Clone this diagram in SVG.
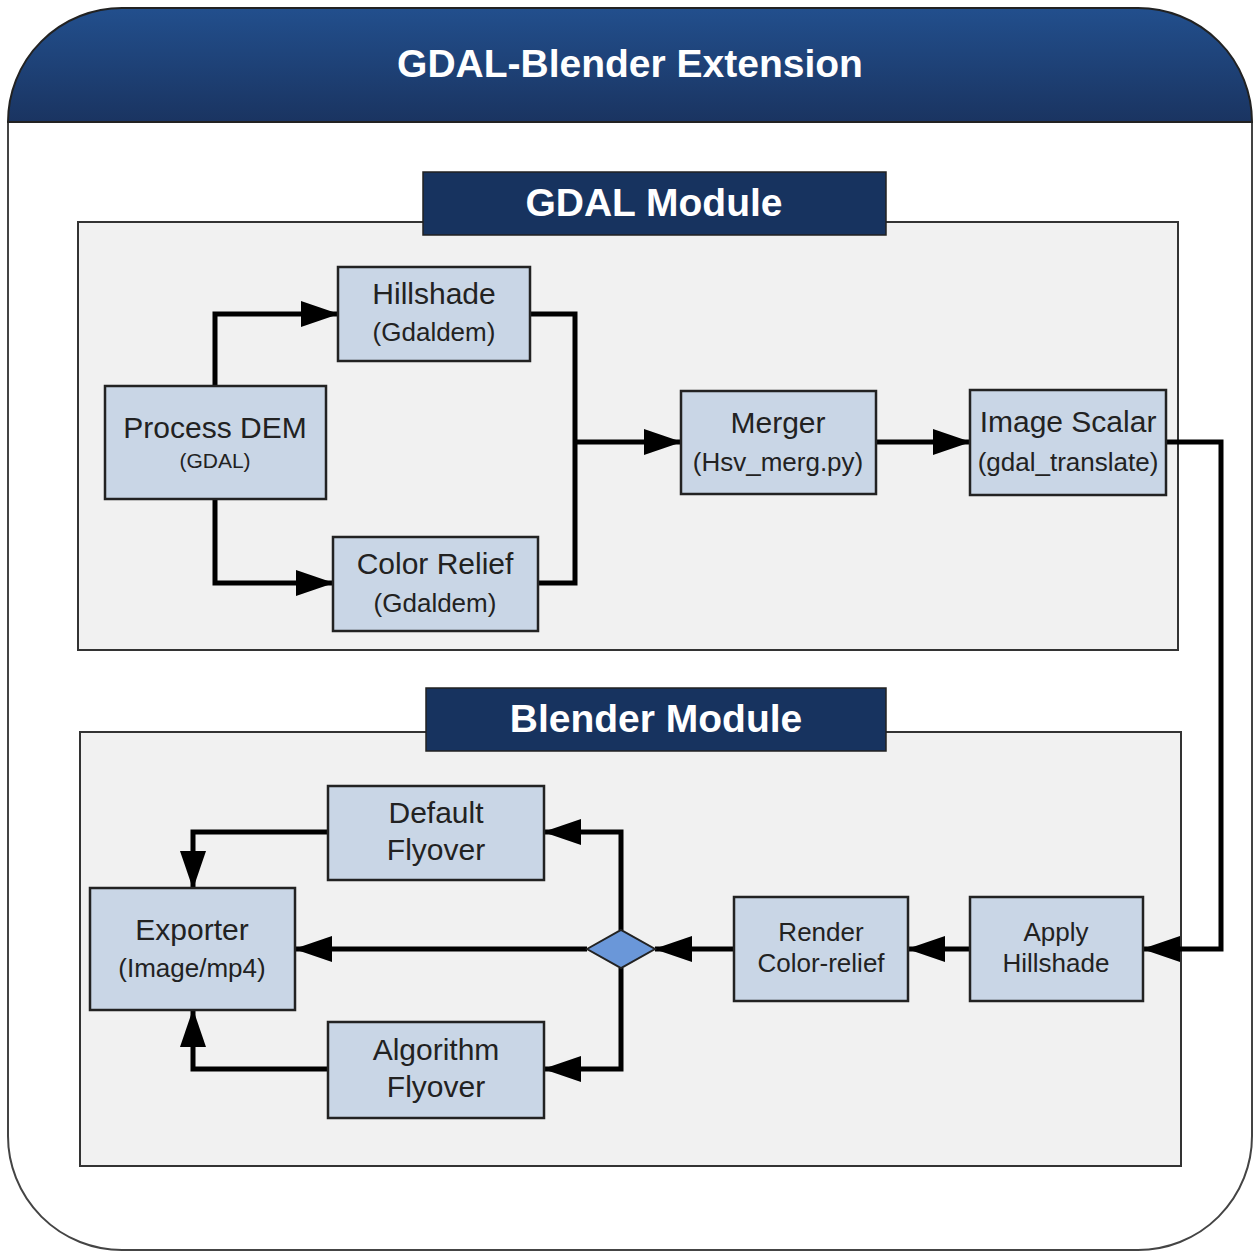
<svg xmlns="http://www.w3.org/2000/svg" width="1253" height="1251" viewBox="0 0 1253 1251">
<defs>
<linearGradient id="hdr" x1="0" y1="0" x2="0" y2="1">
<stop offset="0" stop-color="#224f8d"/>
<stop offset="1" stop-color="#1a3461"/>
</linearGradient>
<marker id="arr" markerUnits="userSpaceOnUse" markerWidth="38" markerHeight="26" refX="37" refY="13" orient="auto">
<path d="M0,0 L38,13 L0,26 Z" fill="#000"/>
</marker>
<style>
.panel{fill:#f1f1f1;stroke:#333;stroke-width:2}
.label{fill:#17335f;stroke:#222;stroke-width:1.5}
.node{fill:#c9d6e6;stroke:#222;stroke-width:2.5}
.ttl{font-family:"Liberation Sans",Arial,sans-serif;font-weight:bold;font-size:39px;fill:#fff;text-anchor:middle}
.t1{font-family:"Liberation Sans",Arial,sans-serif;font-size:30px;fill:#222;text-anchor:middle}
.t2{font-family:"Liberation Sans",Arial,sans-serif;font-size:26px;fill:#222;text-anchor:middle}
.t3{font-family:"Liberation Sans",Arial,sans-serif;font-size:21px;fill:#222;text-anchor:middle}
.c{fill:none;stroke:#000;stroke-width:5;stroke-linejoin:miter}
</style>
</defs>
<g id="frame">
<path d="M8,122 L8,1136 A114,114 0 0 0 122,1250 L1138,1250 A114,114 0 0 0 1252,1136 L1252,122" fill="#fff" stroke="#444" stroke-width="2"/>
<path d="M8,122 A114,114 0 0 1 122,8 L1138,8 A114,114 0 0 1 1252,122 Z" fill="url(#hdr)" stroke="#222" stroke-width="2"/>
<text class="ttl" x="630" y="77">GDAL-Blender Extension</text>
</g>
<g id="gdal-module">
<rect class="panel" x="78" y="222" width="1100" height="428"/>
<rect class="label" x="423" y="172" width="463" height="63"/>
<text class="ttl" x="654" y="216">GDAL Module</text>
</g>
<g id="blender-module">
<rect class="panel" x="80" y="732" width="1101" height="434"/>
<rect class="label" x="426" y="688" width="460" height="63"/>
<text class="ttl" x="656" y="732">Blender Module</text>
</g>
<g id="connectors">
<path class="c" d="M215,386 L215,314 L338,314" marker-end="url(#arr)"/>
<path class="c" d="M215,499 L215,583 L333,583" marker-end="url(#arr)"/>
<path class="c" d="M530,314 L575,314 L575,583 L538,583"/>
<path class="c" d="M575,442 L681,442" marker-end="url(#arr)"/>
<path class="c" d="M876,442 L970,442" marker-end="url(#arr)"/>
<path class="c" d="M1166,442 L1221,442 L1221,949 L1143,949" marker-end="url(#arr)"/>
<path class="c" d="M970,949 L908,949" marker-end="url(#arr)"/>
<path class="c" d="M734,949 L655,949" marker-end="url(#arr)"/>
<path class="c" d="M587,949 L295,949" marker-end="url(#arr)"/>
<path class="c" d="M621,930 L621,832 L544,832" marker-end="url(#arr)"/>
<path class="c" d="M621,968 L621,1069 L544,1069" marker-end="url(#arr)"/>
<path class="c" d="M328,832 L193,832 L193,888" marker-end="url(#arr)"/>
<path class="c" d="M328,1069 L193,1069 L193,1010" marker-end="url(#arr)"/>
</g>
<g id="hillshade">
<rect class="node" x="338" y="267" width="192" height="94"/>
<text class="t1" x="434" y="304">Hillshade</text>
<text class="t2" x="434" y="341">(Gdaldem)</text>
</g>
<g id="process-dem">
<rect class="node" x="105" y="386" width="221" height="113"/>
<text class="t1" x="215" y="438">Process DEM</text>
<text class="t3" x="215" y="468">(GDAL)</text>
</g>
<g id="color-relief">
<rect class="node" x="333" y="537" width="205" height="94"/>
<text class="t1" x="435" y="574">Color Relief</text>
<text class="t2" x="435" y="612">(Gdaldem)</text>
</g>
<g id="merger">
<rect class="node" x="681" y="391" width="195" height="103"/>
<text class="t1" x="778" y="433">Merger</text>
<text class="t2" x="778" y="471">(Hsv_merg.py)</text>
</g>
<g id="image-scalar">
<rect class="node" x="970" y="390" width="196" height="105"/>
<text class="t1" x="1068" y="432">Image Scalar</text>
<text class="t2" x="1068" y="471">(gdal_translate)</text>
</g>
<g id="default-flyover">
<rect class="node" x="328" y="786" width="216" height="94"/>
<text class="t1" x="436" y="823">Default</text>
<text class="t1" x="436" y="860">Flyover</text>
</g>
<g id="exporter">
<rect class="node" x="90" y="888" width="205" height="122"/>
<text class="t1" x="192" y="940">Exporter</text>
<text class="t2" x="192" y="977">(Image/mp4)</text>
</g>
<g id="algorithm-flyover">
<rect class="node" x="328" y="1022" width="216" height="96"/>
<text class="t1" x="436" y="1060">Algorithm</text>
<text class="t1" x="436" y="1097">Flyover</text>
</g>
<g id="render-color-relief">
<rect class="node" x="734" y="897" width="174" height="104"/>
<text class="t2" x="821" y="941">Render</text>
<text class="t2" x="821" y="972">Color-relief</text>
</g>
<g id="apply-hillshade">
<rect class="node" x="970" y="897" width="173" height="104"/>
<text class="t2" x="1056" y="941">Apply</text>
<text class="t2" x="1056" y="972">Hillshade</text>
</g>
<g id="decision">
<path d="M587,949 L621,930 L655,949 L621,968 Z" fill="#6a97d9" stroke="#222" stroke-width="2"/>
</g>
</svg>
